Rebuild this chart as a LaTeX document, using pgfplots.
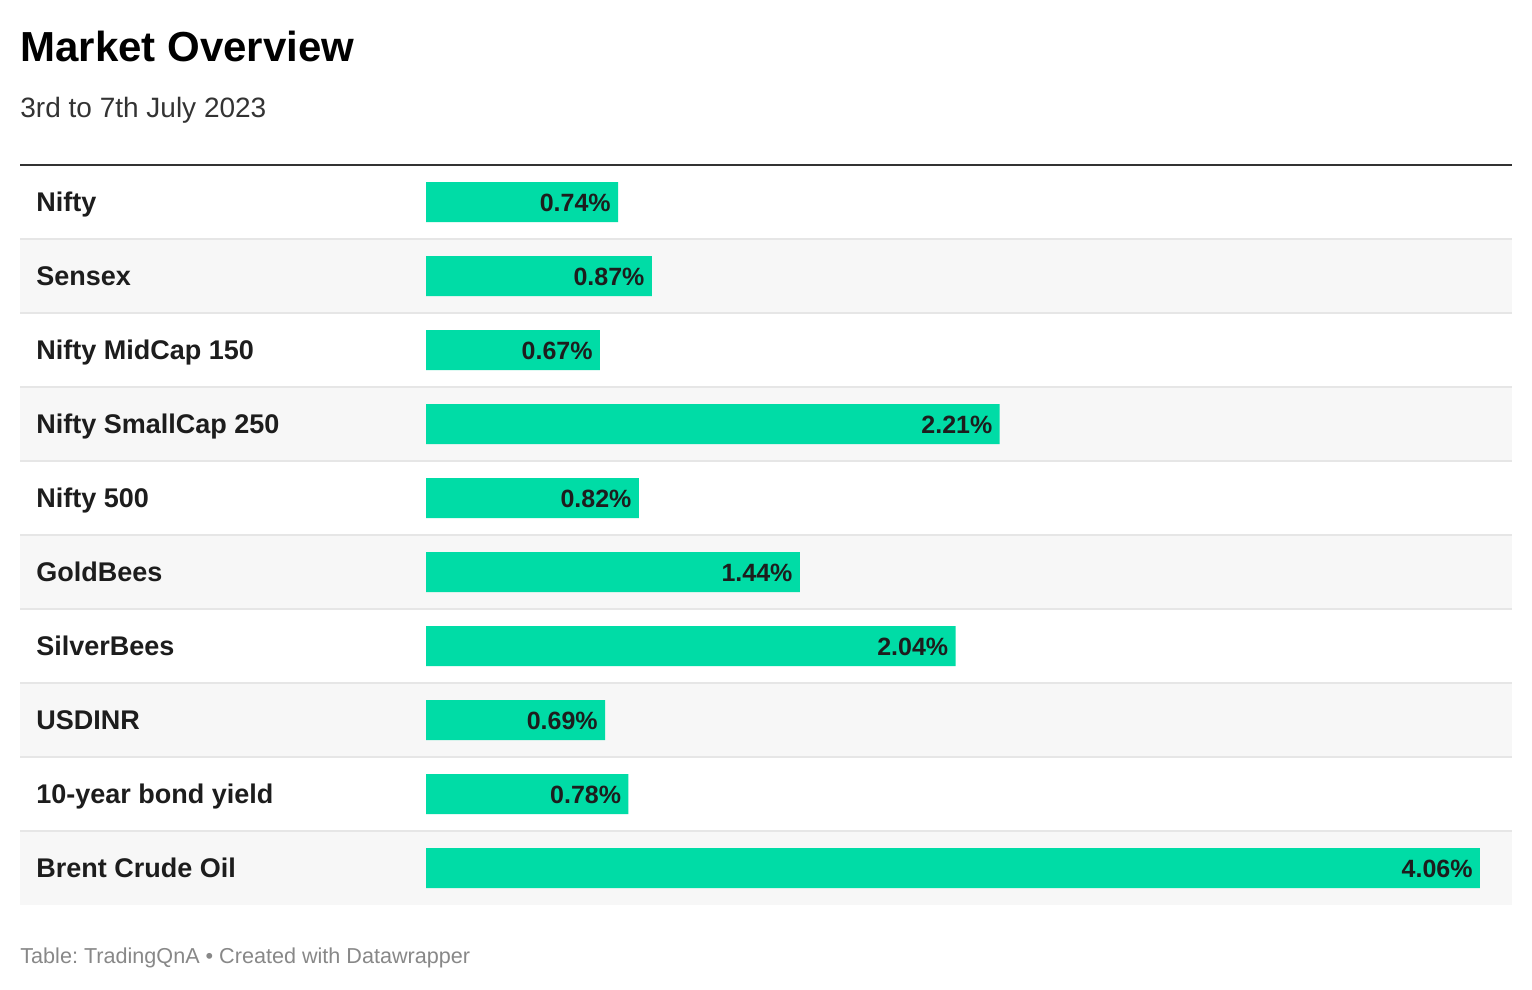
\documentclass[border=0pt]{standalone}
\usepackage{pgfplots}
\pgfplotsset{compat=1.18}
\usepackage{fontspec}
\setmainfont{Liberation Sans}
\frenchspacing

\definecolor{barcol}{HTML}{00DCA6}
\definecolor{rowgray}{HTML}{F7F7F7}
\definecolor{sepline}{HTML}{E6E6E6}
\definecolor{rulecol}{HTML}{333333}
\definecolor{labcol}{HTML}{1D1D1D}
\definecolor{footcol}{HTML}{888888}

% 1 px of the reference = 0.5pt; bar scale 259.6 px per percent, bars start at px 426
\begin{document}
\begin{tikzpicture}
\begin{axis}[
    width=766pt, height=495pt,
    scale only axis,
    axis lines=none,
    ticks=none,
    clip=false,
    xmin=-1.64099, xmax=4.26040,
    ymin=-1.72973, ymax=11.64865,
    y dir=reverse,
]
% page background and alternating rows
\fill[white] (-1.64099,-1.72973) rectangle (4.26040,11.64865);
\fill[rowgray] (-1.56394,1.5) rectangle (4.18336,2.5);
\fill[rowgray] (-1.56394,3.5) rectangle (4.18336,4.5);
\fill[rowgray] (-1.56394,5.5) rectangle (4.18336,6.5);
\fill[rowgray] (-1.56394,7.5) rectangle (4.18336,8.5);
\fill[rowgray] (-1.56394,9.5) rectangle (4.18336,10.5);
\pgfplotsinvokeforeach{1.5,2.5,3.5,4.5,5.5,6.5,7.5,8.5,9.5}{
  \draw[sepline, line width=1pt] (-1.56394,#1) -- (4.18336,#1);
}
\draw[rulecol, line width=1pt] (-1.56394,0.5) -- (4.18336,0.5);

\addplot[xbar, bar width=0.54054, bar shift=0pt, fill=barcol, draw=none,
    point meta=x,
    nodes near coords={\pgfmathprintnumber[fixed,fixed zerofill,precision=2,assume math mode=true]{\pgfplotspointmeta}\%},
    every node near coord/.append style={anchor=base east, inner sep=0pt,
        xshift=-3.5pt, yshift=-4.85pt, font=\fontsize{12.5}{14}\selectfont\bfseries, text=labcol},
] coordinates {
    (0.74,1) (0.87,2) (0.67,3) (2.21,4) (0.82,5)
    (1.44,6) (2.04,7) (0.69,8) (0.78,9) (4.06,10)
};

% row labels
\begin{scope}[every node/.style={anchor=base west, inner sep=0pt, text=labcol,
    font=\fontsize{13.5}{16}\selectfont\bfseries}]
\node at (-1.50231,1.131) {Nifty};
\node at (-1.50231,2.131) {Sensex};
\node at (-1.50231,3.131) {Nifty MidCap 150};
\node at (-1.50231,4.131) {Nifty SmallCap 250};
\node at (-1.50231,5.131) {Nifty 500};
\node at (-1.50231,6.131) {GoldBees};
\node at (-1.50231,7.131) {SilverBees};
\node at (-1.50231,8.131) {USDINR};
\node at (-1.50231,9.131) {10-year bond yield};
\node at (-1.50231,10.131) {Brent Crude Oil};
\end{scope}

% title, subtitle, footer
\node[anchor=base west, inner sep=0pt, font=\fontsize{21}{25}\selectfont\bfseries]
    at (-1.56394,-0.90541) {Market Overview};
\node[anchor=base west, inner sep=0pt, text=rulecol, font=\fontsize{14}{17}\selectfont]
    at (-1.56394,-0.14865) {3rd to 7th July 2023};
\node[anchor=base west, inner sep=0pt, text=footcol, font=\fontsize{10.8}{13}\selectfont]
    at (-1.56394,11.28378) {Table: TradingQnA • Created with Datawrapper};
\end{axis}
\end{tikzpicture}
\end{document}
